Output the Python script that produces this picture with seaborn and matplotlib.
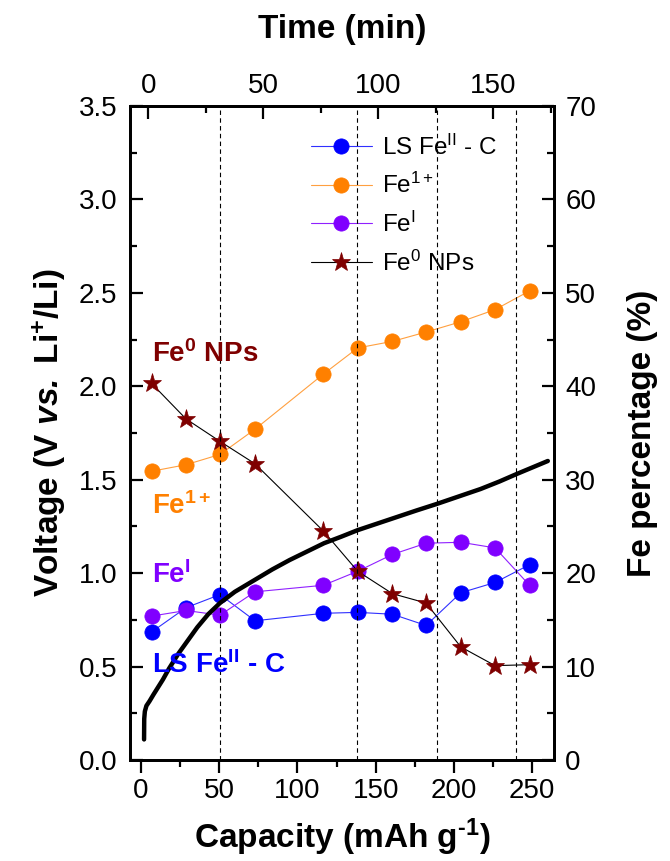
import numpy as np
import pandas as pd
import matplotlib
matplotlib.use("Agg")
import matplotlib.pyplot as plt
import seaborn as sns

# ---------------- data ----------------
capacity_pts = [6.8, 28.8, 50.5, 72.9, 116.6, 138.5, 160.7, 182.2, 204.4, 226.3, 248.3]
ls_fe2_c = [13.7, 16.3, 17.7, 14.9, 15.7, 15.8, 15.6, 14.4, 17.9, 19.0, 20.9]
fe_1plus = [30.9, 31.6, 32.7, 35.4, 41.3, 44.1, 44.8, 45.8, 46.9, 48.2, 50.2]
fe_I = [15.4, 16.0, 15.5, 18.0, 18.7, 20.2, 22.0, 23.2, 23.3, 22.7, 18.7]
fe0_nps = [40.3, 36.5, 34.1, 31.7, 24.5, 20.2, 17.8, 16.8, 12.1, 10.1, 10.2]

curve_capacity = [2.0, 2.1, 2.5, 3.5, 5.5, 8.0, 11.0, 14.0, 18.0, 24.0, 30.0, 36.0, 43.0,
                  50.5, 60.0, 72.0, 84.0, 95.0, 106.0, 117.0, 128.0, 138.5, 151.0,
                  163.5, 176.0, 189.0, 203.0, 217.0, 229.0, 240.0, 250.0, 260.0]
curve_voltage = [0.11, 0.22, 0.26, 0.29, 0.315, 0.35, 0.39, 0.43, 0.49, 0.57, 0.64, 0.71,
                 0.78, 0.84, 0.90, 0.96, 1.02, 1.07, 1.115, 1.16, 1.195, 1.23, 1.265,
                 1.30, 1.335, 1.37, 1.41, 1.45, 1.49, 1.53, 1.565, 1.60]

dashed_capacity = [50.5, 138.1, 189.3, 239.8]

series_names = [r"LS Fe$^{\mathrm{II}}$ - C", r"Fe$^{1+}$", r"Fe$^{\mathrm{I}}$", r"Fe$^{0}$ NPs"]
series_colors = ["#0000FF", "#FF8000", "#8000FF", "#7F0000"]
line_colors = ["#3030FF", "#FFA040", "#9020FF", "#000000"]

# ---------------- style ----------------
sns.set_theme(style="ticks")
plt.rcParams["font.family"] = ["Liberation Sans", "DejaVu Sans"]
plt.rcParams["mathtext.fontset"] = "custom"
plt.rcParams["mathtext.rm"] = "Liberation Sans"
plt.rcParams["mathtext.it"] = "Liberation Sans:italic"
plt.rcParams["mathtext.bf"] = "Liberation Sans:bold"
plt.rcParams["mathtext.bfit"] = "Liberation Sans:italic:bold"
for k in ["text.color", "axes.labelcolor", "xtick.color", "ytick.color", "axes.edgecolor"]:
    plt.rcParams[k] = "black"
plt.rcParams["axes.linewidth"] = 1.9

fig = plt.figure(figsize=(6.7, 8.61), dpi=100)
ax = fig.add_axes([0.194, 0.1173, 0.633, 0.7597])
ax2 = ax.twinx()
ax3 = ax.twiny()

# Fe series on right axis
for name, vals, mc, lc in zip(series_names, [ls_fe2_c, fe_1plus, fe_I, fe0_nps],
                              series_colors, line_colors):
    df = pd.DataFrame({"cap": capacity_pts, "pct": vals})
    is_star = "NPs" in name
    sns.lineplot(data=df, x="cap", y="pct", ax=ax2, color=lc, lw=0.8,
                 marker="*" if is_star else "o",
                 markersize=14 if is_star else 11,
                 markerfacecolor=mc, markeredgecolor=mc, markeredgewidth=0.5,
                 label=name, sort=False)

# Voltage curve on left axis
dfc = pd.DataFrame({"cap": curve_capacity, "V": curve_voltage})
sns.lineplot(data=dfc, x="cap", y="V", ax=ax, color="black", lw=3.2, sort=False,
             legend=False)
for xc in dashed_capacity:
    ax.axvline(xc, color="black", lw=0.8, dashes=(4, 3), zorder=0)

ax.set_zorder(ax2.get_zorder() + 1)
ax.patch.set_visible(False)
ax3.set_zorder(ax.get_zorder() + 1)

ax.set_xlim(-7, 264)
ax.set_ylim(0, 3.5)
ax2.set_ylim(0, 70)
ax3.set_xlim(-8.0, 176.5)

ax.set_xticks(np.arange(0, 251, 50))
ax.set_xticks(np.arange(25, 251, 50), minor=True)
ax.set_yticks(np.arange(0, 3.51, 0.5))
ax.set_yticks(np.arange(0.25, 3.5, 0.5), minor=True)
ax.set_yticklabels([f"{v:.1f}" for v in np.arange(0, 3.51, 0.5)])
ax2.set_yticks(np.arange(0, 71, 10))
ax2.set_yticks(np.arange(5, 70, 10), minor=True)
ax3.set_xticks(np.arange(0, 151, 50))
ax3.set_xticks(np.arange(25, 176, 50), minor=True)

tick_fs = 20
ax.tick_params(axis="x", which="major", direction="out", length=9, width=1.6,
               labelsize=tick_fs, pad=4)
ax.tick_params(axis="x", which="minor", direction="out", length=5, width=1.6)
ax.tick_params(axis="y", which="major", direction="in", length=9, width=1.6,
               labelsize=tick_fs, pad=9)
ax.tick_params(axis="y", which="minor", direction="in", length=5, width=1.6)
ax2.tick_params(axis="y", which="major", direction="in", length=9, width=1.6,
                labelsize=tick_fs, pad=8)
ax2.tick_params(axis="y", which="minor", direction="in", length=5, width=1.6)
ax3.tick_params(axis="x", which="major", direction="in", length=9, width=1.6,
                labelsize=tick_fs, pad=5)
ax3.tick_params(axis="x", which="minor", direction="in", length=5, width=1.6)

lab_fs = 24
ax.set_xlabel("Capacity (mAh g$^{\\mathbf{\u20101}}$)", fontsize=lab_fs,
              fontweight="bold", labelpad=9)
ax.set_ylabel(r"Voltage (V $\mathbfit{vs.}$ Li$^{\mathbf{+}}$/Li)", fontsize=lab_fs,
              fontweight="bold", labelpad=8)
ax2.set_ylabel("Fe percentage (%)", fontsize=lab_fs, fontweight="bold", labelpad=22)
ax3.set_xlabel("Time (min)", fontsize=lab_fs, fontweight="bold", labelpad=25)

for a in (ax, ax2, ax3):
    for s in a.spines.values():
        s.set_linewidth(1.9)

# Annotations
ax.text(7, 2.17, r"Fe$^{\mathbf{0}}$ NPs", color="#7F0000", fontsize=20,
        fontweight="bold", va="center", ha="left")
ax.text(7, 1.36, r"Fe$^{\mathbf{1+}}$", color="#FF8000", fontsize=20,
        fontweight="bold", va="center", ha="left")
ax.text(7, 0.99, r"Fe$^{\mathbf{I}}$", color="#8000FF", fontsize=20,
        fontweight="bold", va="center", ha="left")
ax.text(7, 0.51, r"LS Fe$^{\mathbf{II}}$ - C", color="#0000FF", fontsize=20,
        fontweight="bold", va="center", ha="left")

leg = ax2.legend(loc="upper left", bbox_to_anchor=(0.404, 0.971), frameon=False,
                 fontsize=17.5, handlelength=2.5, handletextpad=0.4, labelspacing=0.55,
                 borderaxespad=0)

fig.savefig("out.png", dpi=100)
